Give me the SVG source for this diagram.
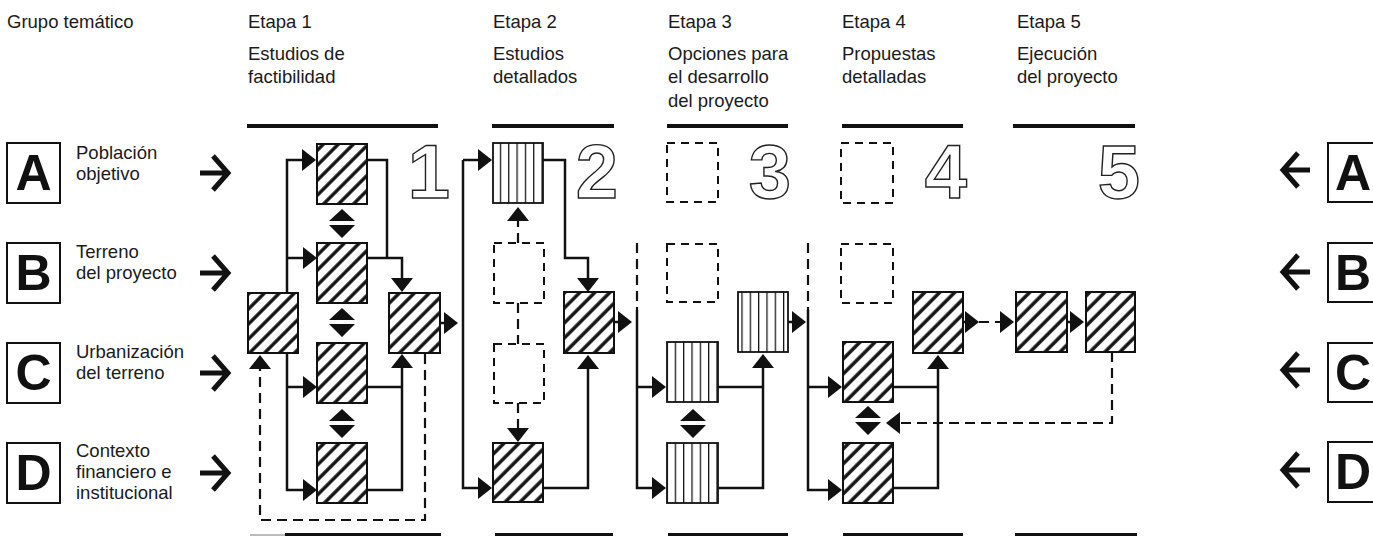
<svg xmlns="http://www.w3.org/2000/svg" xmlns:xlink="http://www.w3.org/1999/xlink" width="1373" height="536" viewBox="0 0 1373 536">
<style>
.t{font-family:"Liberation Sans",Arial,sans-serif;font-size:18.5px;fill:#1a1a1a}
.big{font-family:"Liberation Sans",Arial,sans-serif;font-size:50px;font-weight:bold;fill:#111;text-anchor:middle}
.num{font-family:"Liberation Sans",Arial,sans-serif;font-size:76px;font-weight:bold;fill:#fff;stroke:#222;stroke-width:1.4;text-anchor:end}
.lbox{fill:#fff;stroke:#111;stroke-width:2}
.hat{fill:url(#hatch);stroke:#111;stroke-width:2}
.str{fill:url(#vstripe);stroke:#111;stroke-width:1.8}
.dsh{fill:none;stroke:#111;stroke-width:2;stroke-dasharray:8 6}
.c{fill:none;stroke:#111;stroke-width:2.5}
.cd{fill:none;stroke:#111;stroke-width:2.2;stroke-dasharray:10 6}
.a{marker-end:url(#ah)}
.gar{fill:none;stroke:#111;stroke-width:5}
.rule{fill:#111}
</style>
<defs>
<pattern id="hatch" patternUnits="userSpaceOnUse" width="10.6" height="10.6" patternTransform="rotate(45)">
<rect width="10.6" height="10.6" fill="#fff"/>
<line x1="2" y1="0" x2="2" y2="10.6" stroke="#111" stroke-width="3.4"/>
</pattern>
<pattern id="vstripe" patternUnits="userSpaceOnUse" width="8.33" height="20">
<rect width="8.33" height="20" fill="#fff"/>
<line x1="0.5" y1="0" x2="0.5" y2="20" stroke="#111" stroke-width="1.5"/>
</pattern>
<marker id="ah" viewBox="0 0 14 22" refX="8" refY="11" markerWidth="14" markerHeight="22" markerUnits="userSpaceOnUse" orient="auto">
<path d="M0,0 L14,11 L0,22 Z" fill="#111"/>
</marker>
<g id="dbl"><path d="M-13,12 L0,0 L13,12 Z M-13,16 L13,16 L0,29 Z" fill="#111"/></g>
</defs>

<g id="header">
<text class="t" x="7" y="28">Grupo temático</text>
<text class="t" x="248" y="28">Etapa 1</text>
<text class="t" x="248" y="60">Estudios de</text>
<text class="t" x="248" y="83">factibilidad</text>
<text class="t" x="493" y="28">Etapa 2</text>
<text class="t" x="493" y="60">Estudios</text>
<text class="t" x="493" y="83">detallados</text>
<text class="t" x="668" y="28">Etapa 3</text>
<text class="t" x="668" y="60">Opciones para</text>
<text class="t" x="668" y="83">el desarrollo</text>
<text class="t" x="668" y="107">del proyecto</text>
<text class="t" x="842" y="28">Etapa 4</text>
<text class="t" x="842" y="60">Propuestas</text>
<text class="t" x="842" y="83">detalladas</text>
<text class="t" x="1017" y="28">Etapa 5</text>
<text class="t" x="1017" y="60">Ejecución</text>
<text class="t" x="1017" y="83">del proyecto</text>
<rect class="rule" x="247" y="124" width="191" height="4"/>
<rect class="rule" x="492" y="124" width="122" height="4"/>
<rect class="rule" x="667" y="124" width="121" height="4"/>
<rect class="rule" x="842" y="124" width="121" height="4"/>
<rect class="rule" x="1013" y="124" width="122" height="4"/>
<rect x="250" y="534" width="35" height="2" fill="#bbb"/>
<rect class="rule" x="285" y="533" width="156" height="4"/>
<rect class="rule" x="495" y="533" width="118" height="4"/>
<rect class="rule" x="668" y="533" width="120" height="4"/>
<rect class="rule" x="843" y="533" width="120" height="4"/>
<rect class="rule" x="1015" y="533" width="122" height="4"/>
<text class="num" x="450" y="198">1</text>
<text class="num" x="618" y="198">2</text>
<text class="num" x="791" y="198">3</text>
<text class="num" x="967" y="198">4</text>
<text class="num" x="1140" y="198">5</text>
</g>

<g id="group-A">
<rect class="lbox" x="7" y="143" width="53" height="60"/>
<text class="big" x="33.5" y="190">A</text>
<text class="t" x="76" y="159">Población</text>
<text class="t" x="76" y="180">objetivo</text>
<path class="gar" d="M200,173 H226 M213,156 L228,173 L213,190"/>
</g>
<g id="group-B">
<rect class="lbox" x="7" y="243" width="53" height="60"/>
<text class="big" x="33.5" y="290">B</text>
<text class="t" x="76" y="258">Terreno</text>
<text class="t" x="76" y="279">del proyecto</text>
<path class="gar" d="M200,273 H226 M213,256 L228,273 L213,290"/>
</g>
<g id="group-C">
<rect class="lbox" x="7" y="343" width="53" height="60"/>
<text class="big" x="33.5" y="390">C</text>
<text class="t" x="76" y="358">Urbanización</text>
<text class="t" x="76" y="379">del terreno</text>
<path class="gar" d="M200,373 H226 M213,356 L228,373 L213,390"/>
</g>
<g id="group-D">
<rect class="lbox" x="7" y="443" width="53" height="60"/>
<text class="big" x="33.5" y="490">D</text>
<text class="t" x="76" y="457">Contexto</text>
<text class="t" x="76" y="478">financiero e</text>
<text class="t" x="76" y="499">institucional</text>
<path class="gar" d="M200,473 H226 M213,456 L228,473 L213,490"/>
</g>
<g id="group-A-right">
<rect class="lbox" x="1328" y="143" width="53" height="59"/>
<text class="big" x="1353" y="190">A</text>
<path class="gar" d="M1310,170 H1285 M1298,153 L1283,170 L1298,187"/>
</g>
<g id="group-B-right">
<rect class="lbox" x="1328" y="243" width="53" height="59"/>
<text class="big" x="1353" y="290">B</text>
<path class="gar" d="M1310,272 H1285 M1298,255 L1283,272 L1298,289"/>
</g>
<g id="group-C-right">
<rect class="lbox" x="1328" y="343" width="53" height="59"/>
<text class="big" x="1353" y="390">C</text>
<path class="gar" d="M1310,370 H1285 M1298,353 L1283,370 L1298,387"/>
</g>
<g id="group-D-right">
<rect class="lbox" x="1328" y="442" width="53" height="60"/>
<text class="big" x="1353" y="489">D</text>
<path class="gar" d="M1310,470 H1285 M1298,453 L1283,470 L1298,487"/>
</g>

<g id="s1-L"><rect class="hat" x="248" y="293" width="50" height="60"/></g>
<g id="s1-A"><rect class="hat" x="317" y="144" width="50" height="60"/></g>
<g id="s1-B"><rect class="hat" x="317" y="243" width="50" height="60"/></g>
<g id="s1-C"><rect class="hat" x="317" y="343" width="50" height="60"/></g>
<g id="s1-D"><rect class="hat" x="317" y="443" width="50" height="60"/></g>
<g id="s1-R"><rect class="hat" x="389" y="293" width="51" height="60"/></g>

<g id="s2-A"><rect class="str" x="493" y="143" width="50" height="60"/></g>
<g id="s2-B"><rect class="dsh" x="494" y="243" width="50" height="60"/></g>
<g id="s2-C"><rect class="dsh" x="494" y="344" width="50" height="59"/></g>
<g id="s2-D"><rect class="hat" x="493" y="443" width="50" height="59"/></g>
<g id="s2-R"><rect class="hat" x="564" y="292" width="50" height="61"/></g>

<g id="s3-A"><rect class="dsh" x="667" y="143" width="51" height="59"/></g>
<g id="s3-B"><rect class="dsh" x="667" y="244" width="51" height="58"/></g>
<g id="s3-C"><rect class="str" x="667" y="342" width="51" height="60"/></g>
<g id="s3-D"><rect class="str" x="667" y="443" width="51" height="60"/></g>
<g id="s3-R"><rect class="str" x="738" y="292" width="50" height="60"/></g>

<g id="s4-A"><rect class="dsh" x="841" y="143" width="52" height="60"/></g>
<g id="s4-B"><rect class="dsh" x="841" y="244" width="52" height="59"/></g>
<g id="s4-C"><rect class="hat" x="843" y="342" width="50" height="60"/></g>
<g id="s4-D"><rect class="hat" x="843" y="443" width="50" height="60"/></g>
<g id="s4-R"><rect class="hat" x="913" y="292" width="50" height="61"/></g>

<g id="s5-1"><rect class="hat" x="1016" y="292" width="51" height="60"/></g>
<g id="s5-2"><rect class="hat" x="1086" y="292" width="49" height="60"/></g>

<g id="connectors">
<!-- stage 1 -->
<path class="c a" d="M287,293 V160 H310"/>
<path class="c a" d="M287,258 H311"/>
<path class="c a" d="M287,353 V490 H311"/>
<path class="c a" d="M287,387 H311"/>
<path class="c" d="M367,160 H387 V258"/>
<path class="c a" d="M367,258 H402 V286"/>
<path class="c a" d="M367,490 H402 V360"/>
<path class="c" d="M367,387 H402"/>
<path class="c a" d="M440,323 H452"/>
<path class="cd a" d="M425,354 V520 H260 V361"/>
<use xlink:href="#dbl" x="342" y="209"/>
<use xlink:href="#dbl" x="342" y="308"/>
<use xlink:href="#dbl" x="342" y="409"/>
<!-- stage 2 -->
<path class="c a" d="M463,160 V488 H486"/>
<path class="c a" d="M463,160 H486"/>
<path class="cd a" d="M518,243 V213"/>
<path class="cd" d="M518,303 V344"/>
<path class="cd a" d="M518,403 V436"/>
<path class="c a" d="M543,160 H565 V258 H588 V286"/>
<path class="c a" d="M543,488 H588 V361"/>
<path class="c a" d="M614,322 H626"/>
<!-- stage 3 -->
<path class="cd" d="M637,243 V310"/>
<path class="c a" d="M637,310 V488 H660"/>
<path class="c a" d="M637,387 H660"/>
<path class="c" d="M718,387 H763"/>
<path class="c a" d="M718,488 H763 V360"/>
<use xlink:href="#dbl" x="693" y="409"/>
<path class="c a" d="M788,322 H800"/>
<!-- stage 4 -->
<path class="cd" d="M808,243 V310"/>
<path class="c a" d="M808,310 V490 H836"/>
<path class="c a" d="M808,387 H836"/>
<path class="c" d="M893,387 H938"/>
<path class="c a" d="M893,488 H938 V361"/>
<use xlink:href="#dbl" x="868" y="406"/>
<path class="c a" d="M963,322 H973"/>
<path class="cd a" d="M979,322 H1008"/>
<path class="c a" d="M1067,322 H1078"/>
<path class="cd a" d="M1112,352 V423 H892"/>
</g>
</svg>
